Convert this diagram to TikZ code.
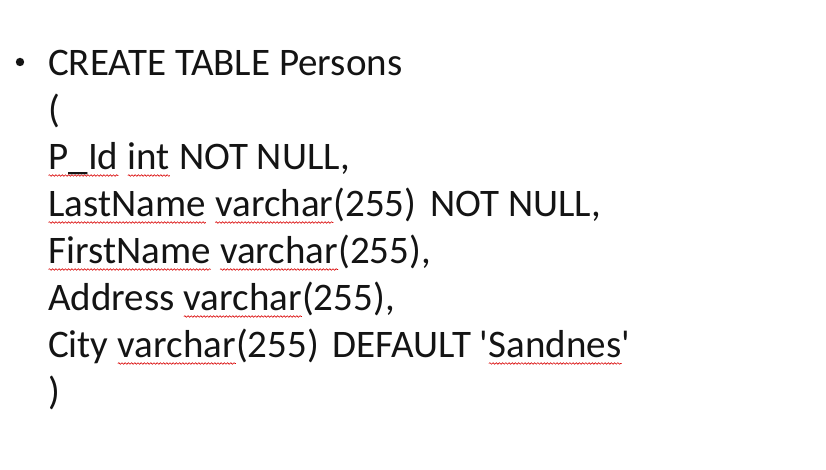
\documentclass[tikz,border=0pt]{standalone}
\usepackage{fontspec}
\setmainfont{Carlito}
\usetikzlibrary{positioning, decorations.pathmorphing}

\tikzset{
	spell/.style={red!85!black, line width=0.6pt, decorate,
		decoration={snake, amplitude=0.8pt, segment length=3.2pt}},
	line/.style={anchor=base west, inner sep=0pt, text=black!92,
		font=\fontsize{39}{47}\selectfont}
}
% red wavy spell-check underline
\newcommand{\wv}[1]{\tikz[baseline=(w.base)]{\node[inner sep=0pt, outer sep=0pt] (w) {#1};
	\draw[spell] ([yshift=-5.5pt]w.base west) -- ([yshift=-5.5pt]w.base east);}}

\begin{document}
\begin{tikzpicture}[x=1pt, y=1pt]
	\useasboundingbox[fill=white] (0,0) rectangle (826,470);
	\fill[black!92] (20,408) circle (4.2);
	\node[line] (l1) at (48,394) {CREATE TABLE Persons};
	\node[line] (l2) at ([yshift=-47pt]l1.base west) {(};
	\node[line] (l3) at ([yshift=-47pt]l2.base west) {\wv{P\_Id} \wv{int} NOT NULL,};
	\node[line] (l4) at ([yshift=-47pt]l3.base west) {\wv{LastName} \wv{varchar}(255)\kern5pt{} NOT NULL,};
	\node[line] (l5) at ([yshift=-47pt]l4.base west) {\wv{FirstName} \wv{varchar}(255),};
	\node[line] (l6) at ([yshift=-47pt]l5.base west) {Address \wv{varchar}(255),};
	\node[line] (l7) at ([yshift=-47pt]l6.base west) {City \wv{varchar}(255)\kern5pt{} DEFAULT \textquotesingle\wv{Sandnes}\textquotesingle};
	\node[line] (l8) at ([yshift=-47pt]l7.base west) {)};
\end{tikzpicture}
\end{document}
